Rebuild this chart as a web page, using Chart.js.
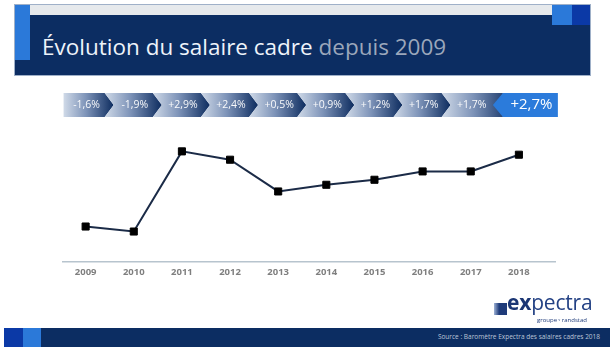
<!DOCTYPE html>
<html lang="fr">
<head>
<meta charset="utf-8">
<title>Évolution du salaire cadre depuis 2009</title>
<script src="https://cdn.jsdelivr.net/npm/chart.js@4/dist/chart.umd.min.js"></script>
<style>
  html, body { margin: 0; padding: 0; background: #ffffff; }
  #page { position: relative; width: 614px; height: 350px; overflow: hidden; font-family: "Open Sans", "Noto Sans", sans-serif; }
  #chart { position: absolute; left: 0; top: 0; }
  .hdr { position: absolute; left: 15px; top: 5px; width: 575px; height: 70px; background: #0c2d62; box-shadow: 0 0 0 1px #9fb0c8; }
  .hdr .strip { position: absolute; left: 15px; top: 0; width: 522px; height: 10px; background: #e6e9ec; }
  .hdr .blockL { position: absolute; left: 0; top: 0; width: 15px; height: 55px; background: #2b79d9; }
  .hdr .blockR1 { position: absolute; left: 537px; top: 0; width: 20px; height: 20px; background: #2b79d9; }
  .hdr .blockR2 { position: absolute; left: 557px; top: 0; width: 18px; height: 20px; background: #0b39a6; }
  .title { position: absolute; left: 42px; top: 36px; font-size: 22.5px; line-height: 1; color: #eef3fa; white-space: nowrap; }
  .title .muted { color: #9ba7bb; }
  .logo { position: absolute; left: 494px; top: 292px; width: 100px; height: 34px; }
  .logo .mark { position: absolute; left: 0; top: 11px; width: 13px; height: 12px; background: linear-gradient(90deg, #9fb3d6 0%, #1f3b7a 40%, #1f3b7a 100%); }
  .logo .word { position: absolute; left: 13px; top: 0; font-size: 21px; line-height: 1; color: #234184; letter-spacing: -0.2px; }
  .logo .word b { font-weight: 700; color: #1b3674; }
  .logo .grp { position: absolute; left: 43px; top: 25px; font-size: 6px; line-height: 1; color: #1f3b7a; white-space: nowrap; }
  .foot { position: absolute; left: 4px; top: 328px; width: 606px; height: 19px; background: #0c2d62; }
  .foot .f1 { position: absolute; left: 0; top: 0; width: 19px; height: 19px; background: #0b39a6; }
  .foot .f2 { position: absolute; left: 19px; top: 0; width: 18px; height: 19px; background: #2b79d9; }
  .foot .src { position: absolute; right: 10px; top: 6px; font-size: 6.5px; line-height: 1; color: #bcc6d8; white-space: nowrap; }
</style>
</head>
<body>
<div id="page">
  <div class="hdr">
    <div class="strip"></div>
    <div class="blockL"></div>
    <div class="blockR1"></div>
    <div class="blockR2"></div>
  </div>
  <div class="title">Évolution du salaire cadre <span class="muted">depuis 2009</span></div>

  <canvas id="chart" width="614" height="350"></canvas>

  <div class="logo">
    <div class="mark"></div>
    <div class="word"><b>ex</b>pectra</div>
    <div class="grp">groupe <span style="font-size:5px">ᵛ</span> randstad</div>
  </div>

  <div class="foot">
    <div class="f1"></div>
    <div class="f2"></div>
    <div class="src">Source : Baromètre Expectra des salaires cadres 2018</div>
  </div>
</div>

<script>
// Années et évolution annuelle du salaire cadre (en %)
const years = ['2009', '2010', '2011', '2012', '2013', '2014', '2015', '2016', '2017', '2018'];
const evolution = [-1.6, -1.9, 2.9, 2.4, 0.5, 0.9, 1.2, 1.7, 1.7, 2.7];

// Libellé « +2,9% » à la française
function pct(v) {
  const s = Math.abs(v).toFixed(1).replace('.', ',');
  return (v < 0 ? '-' : '+') + s + '%';
}

// Bandeau de flèches au-dessus de la courbe, aligné sur l'axe des années
const arrowBanner = {
  id: 'arrowBanner',
  afterDraw(chart) {
    const ctx = chart.ctx;
    const xs = chart.scales.x;
    const top = 93, bot = 117, mid = (top + bot) / 2;
    const d = 9;
    const pitch = xs.getPixelForValue(1) - xs.getPixelForValue(0);
    const n = evolution.length;
    const lastX = xs.getPixelForValue(n - 1);
    const boxCorner = lastX - 16;
    const boxPoint = boxCorner - 10;
    const boxRight = lastX + 39;

    ctx.save();
    for (let i = 0; i < n - 1; i++) {
      const cx = xs.getPixelForValue(i);
      const L = i === 0 ? cx - pitch / 2 + 2 : cx - pitch / 2 - 5;
      const last = i === n - 2;
      const R = last ? boxCorner : cx + pitch / 2 - 5;
      const g = ctx.createLinearGradient(L, 0, R + d, 0);
      g.addColorStop(0, '#d0dae8');
      g.addColorStop(0.45, '#7d93b8');
      g.addColorStop(1, '#0d2c5f');
      ctx.fillStyle = g;
      ctx.beginPath();
      ctx.moveTo(L, top);
      ctx.lineTo(R, top);
      if (!last) ctx.lineTo(R + d, mid);
      ctx.lineTo(R, bot);
      ctx.lineTo(L, bot);
      if (i > 0) ctx.lineTo(L + d, mid);
      ctx.closePath();
      ctx.fill();

      ctx.fillStyle = 'rgba(255,255,255,0.95)';
      ctx.font = '10.5px "Open Sans", sans-serif';
      ctx.textAlign = 'center';
      ctx.textBaseline = 'middle';
      ctx.fillText(pct(evolution[i]), cx + 1, mid);
    }

    // Dernière année mise en avant
    ctx.fillStyle = '#2b7bdb';
    ctx.beginPath();
    ctx.moveTo(boxCorner, top);
    ctx.lineTo(boxRight, top);
    ctx.lineTo(boxRight, bot);
    ctx.lineTo(boxCorner, bot);
    ctx.lineTo(boxPoint, mid);
    ctx.closePath();
    ctx.fill();
    ctx.fillStyle = '#ffffff';
    ctx.font = '15px "Open Sans", sans-serif';
    ctx.textAlign = 'center';
    ctx.textBaseline = 'middle';
    ctx.fillText(pct(evolution[n - 1]), (boxCorner + boxRight) / 2 + 1, mid);
    ctx.restore();
  }
};

new Chart(document.getElementById('chart'), {
  type: 'line',
  data: {
    datasets: [{
      data: evolution.map((v, i) => ({ x: i, y: v })),
      borderColor: '#1b2b47',
      borderWidth: 2,
      tension: 0,
      pointStyle: 'rect',
      pointRadius: 5,
      pointHoverRadius: 5,
      pointBackgroundColor: '#000000',
      pointBorderColor: '#000000',
      pointBorderWidth: 1
    }]
  },
  options: {
    responsive: false,
    animation: false,
    events: [],
    layout: { padding: { left: 63, right: 59, top: 133, bottom: 67 } },
    plugins: { legend: { display: false }, tooltip: { enabled: false } },
    scales: {
      x: {
        type: 'linear',
        min: -0.47,
        max: 9.75,
        afterBuildTicks(axis) { axis.ticks = years.map((_, i) => ({ value: i })); },
        grid: { display: false, drawTicks: false },
        border: { display: true, color: '#b7c4ce', width: 1.5 },
        ticks: {
          padding: 5,
          color: '#7f7f7f',
          font: { family: '"Open Sans", sans-serif', size: 9.5, weight: 'bold' },
          callback: (v) => years[v]
        }
      },
      y: {
        min: -3.7,
        max: 4,
        display: false
      }
    }
  },
  plugins: [arrowBanner]
});
</script>
</body>
</html>
